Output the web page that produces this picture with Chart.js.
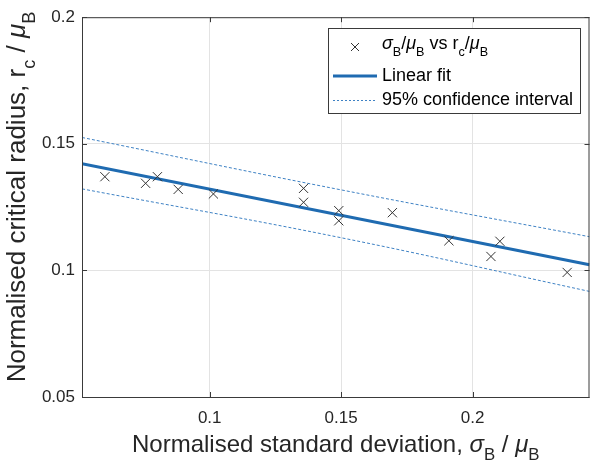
<!DOCTYPE html>
<html lang="en">
<head>
    <meta charset="UTF-8">
    <title>Critical radius vs standard deviation</title>
    <style>
        body {
            margin: 0;
            padding: 0;
            background: #fff;
        }
        .chart-box {
            width: 597px;
            height: 460px;
        }
    </style>
</head>
<body>
    <div class="chart-box">
        <canvas id="radiusChart"></canvas>
    </div>

    <script src="https://cdn.jsdelivr.net/npm/chart.js"></script>
    <script>
        // measured points: sigma_B/mu_B vs r_c/mu_B
        const sigmaVals = [0.0601, 0.0756, 0.0801, 0.088, 0.1014, 0.1357, 0.1357, 0.1491, 0.1491, 0.1695, 0.191, 0.2104, 0.207, 0.236];
        const radiusVals = [0.137, 0.1344, 0.137, 0.132, 0.1302, 0.1324, 0.1269, 0.1236, 0.1196, 0.1228, 0.1117, 0.1115, 0.1055, 0.0992];

        // linear fit and 95% bounds
        const fitX = [0.0514, 0.2445];
        const fitY = [0.1421, 0.1022];
        const ciX = [0.0514, 0.15, 0.2445];
        const ciUpper = [0.1525, 0.1318, 0.1133];
        const ciLower = [0.1322, 0.1129, 0.0917];

        // axes
        const xTicks = [0.1, 0.15, 0.2];
        const yTicks = [0.05, 0.1, 0.15, 0.2];
        const xRange = [0.0514, 0.2445];
        const yRange = [0.05, 0.2];

        const FONT = "'Liberation Sans', Arial, sans-serif";
        const blue = '#1f6bb1';
        const ciBlue = '#3f82c4';

        function toPoints(xs, ys) {
            return xs.map(function (x, i) { return { x: x, y: ys[i] }; });
        }

        // text with subscripts / italic greek
        function richWidth(ctx, parts, size) {
            let w = 0;
            parts.forEach(function (p) {
                const s = p.sub ? size * 0.7 : size;
                ctx.font = (p.it ? 'italic ' : '') + s + 'px ' + FONT;
                w += ctx.measureText(p.t).width;
            });
            return w;
        }

        function drawRich(ctx, parts, x, y, size, align) {
            let w = richWidth(ctx, parts, size);
            let cx = align === 'center' ? x - w / 2 : x;
            ctx.textBaseline = 'middle';
            ctx.textAlign = 'left';
            parts.forEach(function (p) {
                const s = p.sub ? size * 0.7 : size;
                ctx.font = (p.it ? 'italic ' : '') + s + 'px ' + FONT;
                ctx.fillText(p.t, cx, p.sub ? y + size * 0.45 : y);
                cx += ctx.measureText(p.t).width;
            });
        }

        const xTitle = [
            { t: 'Normalised standard deviation, ' },
            { t: 'σ', it: true }, { t: 'B', sub: true },
            { t: ' / ' },
            { t: 'μ', it: true }, { t: 'B', sub: true }
        ];
        const yTitle = [
            { t: 'Normalised critical radius, r' }, { t: 'c', sub: true },
            { t: ' / ' },
            { t: 'μ', it: true }, { t: 'B', sub: true }
        ];
        const legendFirst = [
            { t: 'σ', it: true }, { t: 'B', sub: true }, { t: '/' },
            { t: 'μ', it: true }, { t: 'B', sub: true }, { t: ' vs r' },
            { t: 'c', sub: true }, { t: '/' },
            { t: 'μ', it: true }, { t: 'B', sub: true }
        ];

        const decorPlugin = {
            id: 'decor',
            afterDraw: function (chart) {
                const ctx = chart.ctx;
                const a = chart.chartArea;
                const xs = chart.scales.x;
                const ys = chart.scales.y;

                ctx.save();
                // box + inward ticks
                ctx.strokeStyle = '#3a3a3a';
                ctx.lineWidth = 1;
                ctx.strokeRect(a.left + 0.5, a.top + 0.5, a.right - a.left - 1, a.bottom - a.top);
                ctx.beginPath();
                xTicks.forEach(function (v) {
                    const px = Math.round(xs.getPixelForValue(v)) + 0.5;
                    ctx.moveTo(px, a.bottom); ctx.lineTo(px, a.bottom - 5);
                    ctx.moveTo(px, a.top); ctx.lineTo(px, a.top + 5);
                });
                yTicks.forEach(function (v) {
                    const py = Math.round(ys.getPixelForValue(v)) + 0.5;
                    ctx.moveTo(a.left, py); ctx.lineTo(a.left + 5, py);
                    ctx.moveTo(a.right, py); ctx.lineTo(a.right - 5, py);
                });
                ctx.stroke();

                // axis titles
                ctx.fillStyle = '#262626';
                drawRich(ctx, xTitle, (a.left + a.right) / 2, 445, 24, 'center');
                ctx.save();
                ctx.translate(18, 197);
                ctx.rotate(-Math.PI / 2);
                drawRich(ctx, yTitle, 0, 0, 26, 'center');
                ctx.restore();

                // legend
                ctx.fillStyle = '#fff';
                ctx.fillRect(328, 28, 252, 85);
                ctx.strokeStyle = '#3a3a3a';
                ctx.strokeRect(328.5, 28.5, 252, 85);

                ctx.strokeStyle = '#333';
                ctx.lineWidth = 1;
                ctx.beginPath();
                ctx.moveTo(351, 43); ctx.lineTo(359, 51);
                ctx.moveTo(359, 43); ctx.lineTo(351, 51);
                ctx.stroke();

                ctx.strokeStyle = blue;
                ctx.lineWidth = 3;
                ctx.beginPath();
                ctx.moveTo(333, 76); ctx.lineTo(377, 76);
                ctx.stroke();

                ctx.strokeStyle = ciBlue;
                ctx.lineWidth = 1;
                ctx.setLineDash([2, 2]);
                ctx.beginPath();
                ctx.moveTo(333, 100.5); ctx.lineTo(377, 100.5);
                ctx.stroke();
                ctx.setLineDash([]);

                ctx.fillStyle = '#000';
                drawRich(ctx, legendFirst, 382, 44, 18, 'left');
                drawRich(ctx, [{ t: 'Linear fit' }], 382, 76, 18, 'left');
                drawRich(ctx, [{ t: '95% confidence interval' }], 382, 100, 18, 'left');
                ctx.restore();
            }
        };

        const ctx = document.getElementById('radiusChart').getContext('2d');
        new Chart(ctx, {
            type: 'scatter',
            data: {
                datasets: [{
                    label: 'points',
                    data: toPoints(sigmaVals, radiusVals),
                    pointStyle: 'crossRot',
                    pointRadius: 6.5,
                    pointBorderWidth: 1,
                    borderColor: '#333',
                    backgroundColor: '#333'
                }, {
                    label: 'Linear fit',
                    data: toPoints(fitX, fitY),
                    showLine: true,
                    pointRadius: 0,
                    borderColor: blue,
                    borderWidth: 3
                }, {
                    label: 'upper',
                    data: toPoints(ciX, ciUpper),
                    showLine: true,
                    pointRadius: 0,
                    tension: 0.4,
                    borderColor: ciBlue,
                    borderWidth: 1,
                    borderDash: [3, 2]
                }, {
                    label: 'lower',
                    data: toPoints(ciX, ciLower),
                    showLine: true,
                    pointRadius: 0,
                    tension: 0.4,
                    borderColor: ciBlue,
                    borderWidth: 1,
                    borderDash: [3, 2]
                }]
            },
            options: {
                responsive: true,
                maintainAspectRatio: false,
                animation: false,
                layout: {
                    padding: { top: 17, right: 6, left: 0, bottom: 0 }
                },
                plugins: {
                    legend: { display: false },
                    tooltip: { enabled: false }
                },
                scales: {
                    x: {
                        type: 'linear',
                        min: xRange[0],
                        max: xRange[1],
                        afterBuildTicks: function (scale) {
                            scale.ticks = xTicks.map(function (v) { return { value: v }; });
                        },
                        afterFit: function (scale) { scale.height = 63; },
                        grid: { color: '#e3e3e3', drawTicks: false },
                        border: { display: false },
                        ticks: {
                            padding: 11,
                            color: '#262626',
                            font: { family: FONT, size: 17 },
                            callback: function (v) { return String(v); }
                        }
                    },
                    y: {
                        type: 'linear',
                        min: yRange[0],
                        max: yRange[1],
                        afterBuildTicks: function (scale) {
                            scale.ticks = yTicks.map(function (v) { return { value: v }; });
                        },
                        afterFit: function (scale) { scale.width = 82; },
                        grid: { color: '#e3e3e3', drawTicks: false },
                        border: { display: false },
                        ticks: {
                            padding: 7,
                            color: '#262626',
                            font: { family: FONT, size: 17 },
                            callback: function (v) { return String(v); }
                        }
                    }
                }
            },
            plugins: [decorPlugin]
        });
    </script>
</body>
</html>
